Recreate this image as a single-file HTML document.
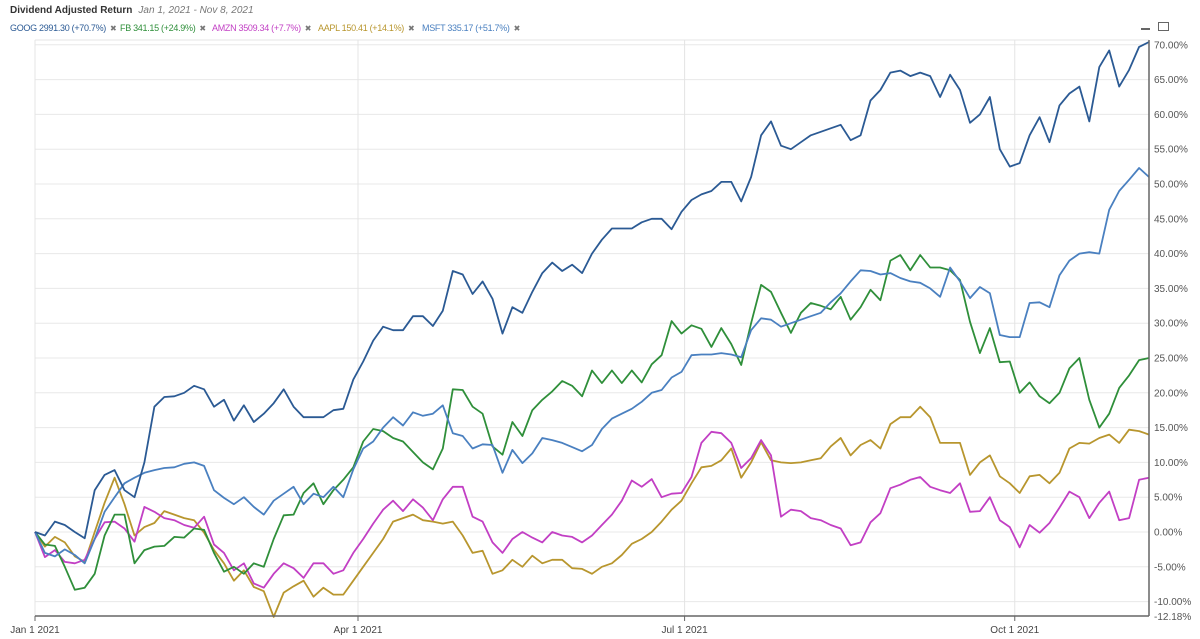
<!DOCTYPE html>
<html><head><meta charset="utf-8"><style>
html,body{margin:0;padding:0;background:#fff;}
body{width:1200px;height:639px;overflow:hidden;font-family:"Liberation Sans",sans-serif;position:relative;}
.hdr{position:absolute;left:10px;top:5px;font-size:10px;}
.hdr b{color:#333;}
.hdr i{color:#777;margin-left:6px;}
.leg{position:absolute;top:23px;font-size:9px;letter-spacing:-0.3px;white-space:nowrap;}
.leg span.x{color:#777;margin-left:4px;font-size:8px;}
</style></head><body>
<div class="hdr"><b>Dividend Adjusted Return</b><i>Jan 1, 2021 - Nov 8, 2021</i></div>
<div class="leg" style="left:10px;color:#2b5a94">GOOG 2991.30 (+70.7%)<span class="x">✖</span></div>
<div class="leg" style="left:120px;color:#2f8f3a">FB 341.15 (+24.9%)<span class="x">✖</span></div>
<div class="leg" style="left:212px;color:#c23fc4">AMZN 3509.34 (+7.7%)<span class="x">✖</span></div>
<div class="leg" style="left:318px;color:#b8962e">AAPL 150.41 (+14.1%)<span class="x">✖</span></div>
<div class="leg" style="left:422px;color:#4a80c0">MSFT 335.17 (+51.7%)<span class="x">✖</span></div>
<svg id="chart" width="1200" height="639" style="position:absolute;left:0;top:0"></svg>
<script>
const yTicks=[70,65,60,55,50,45,40,35,30,25,20,15,10,5,0,-5,-10];
const xTickLabels=["Jan 1 2021","Apr 1 2021","Jul 1 2021","Oct 1 2021"];
const xTickDays=[0,90,181,273];
const seriesNames=["AAPL","AMZN","FB","MSFT","GOOG"];
const seriesColors=["#b8962e","#c23fc4","#2f8f3a","#4a80c0","#2b5a94"];
const GOOG=[0,-0.5,1.5,1,0,-0.9,6,8.2,8.9,6,
5,10,18,19.4,19.5,20,21,20.5,18,19,
16,18.2,15.8,17,18.5,20.5,18,16.5,16.5,16.5,
17.5,17.7,21.9,24.5,27.5,29.5,29,29,31,31,
29.6,31.8,37.5,37,34.2,36,33.5,28.5,32.3,31.5,
34.5,37.2,38.7,37.5,38.4,37.2,40,42,43.6,43.6,
43.6,44.5,45,45,43.5,46,47.7,48.5,49,50.3,
50.3,47.5,51,57,59,55.5,55,56,57,57.5,
58,58.5,56.3,57,62,63.5,66,66.3,65.5,66,
65.5,62.5,65.7,63.5,58.8,60,62.5,55,52.5,53,
57,59.6,56,61.3,63,64,59,66.8,69.2,64,
66.4,69.7,70.4];
const MSFT=[0,-3,-3.5,-2.5,-3.3,-4.5,-1,2.9,5,7,
7.8,8.5,8.9,9.2,9.3,9.8,10,9.5,6,4.9,
4,5,3.6,2.5,4.5,5.5,6.5,4,5.5,5,
6.5,5,9,12,13,15,16.5,15.3,17.2,16.7,
17,18.2,14.2,13.8,12,12.6,12.5,8.5,11.8,9.9,
11.3,13.5,13.2,12.8,12.2,11.6,12.5,14.8,16.3,17,
17.7,18.7,20,20.4,22.2,23,25.4,25.5,25.5,25.7,
25.5,25.1,29,30.7,30.5,29.5,30,30.5,31,31.5,
33,34.3,36,37.6,37.5,37,37.2,36.5,36,35.8,
35,33.8,38,36,33.6,35.2,34.3,28.3,28,28,
32.9,33,32.3,36.9,39,40,40.2,40,46.3,49,
50.6,52.3,51];
const FB=[0,-1.8,-2,-5,-8.3,-8,-6,-0.5,2.5,2.5,
-4.5,-2.6,-2.1,-2,-0.7,-0.8,0.5,0.3,-3,-5.7,
-5,-6,-4.5,-5,-1,2.4,2.5,5.6,7,4,
6,7.5,9.3,13,14.8,14.5,13.5,13,11.5,10,
9,12,20.5,20.4,18,17,12.3,11.1,15.8,13.8,
17.5,19,20.2,21.7,21,19.5,23.2,21.4,23.2,21.4,
23.2,21.5,24.1,25.4,30.3,28.5,29.7,29.2,26.6,29.3,
27,24,30,35.5,34.5,31.5,28.6,31.5,32.9,32.5,
32,33.8,30.5,32.3,34.8,33.3,39,39.8,37.6,39.8,
38,38,37.6,36.2,30.2,25.7,29.3,24.4,24.5,20,
21.5,19.5,18.5,20,23.5,25,19,15,17,20.7,
22.5,24.7,25];
const AMZN=[0,-3.6,-2.6,-4.3,-4.5,-4,-1,1.4,1.5,0.5,
-1.4,3.6,2.9,2,1.7,1,0.6,2.2,-1.8,-3,
-5.5,-4.5,-7.4,-8,-6,-4.5,-5.2,-6.6,-4.5,-4.5,
-6,-5.5,-3,-1,1.2,3.2,4.5,3,4.7,3.5,
1.7,4.7,6.5,6.5,2.2,1.5,-1.5,-3,-1,0,
-0.8,-1.5,0,-0.5,-0.7,-1.5,-0.5,1,2.5,4.5,
7.4,6.5,7.6,5,5.5,5.6,7.9,12.8,14.4,14.2,
12.8,9.2,10.6,13.2,11,2.2,3.2,3,2,1.7,
1,0.5,-1.9,-1.5,1.4,2.7,6.3,6.8,7.5,7.9,
6.5,6,5.6,7,2.9,3,5,1.7,0.7,-2.2,
1,-0.1,1.3,3.5,5.8,5,2,4.2,5.8,1.7,
2,7.5,7.8];
const AAPL=[0,-2.1,-0.7,-1.5,-3.5,-4.3,0,4.2,7.8,4,
-0.5,0.7,1.3,3,2.5,2,1.7,-0.1,-2.6,-4.5,
-7,-5.5,-7.9,-8.5,-12.2,-8.7,-7.8,-7,-9.3,-8,
-9,-9,-7,-5,-3,-1,1.5,2,2.5,1.7,
1.5,1.2,1.5,-0.5,-3,-2.7,-6,-5.5,-4,-5,
-3.4,-4.5,-4,-4,-5.2,-5.3,-6,-5,-4.5,-3.3,
-1.7,-1,0,1.5,3.2,4.5,7,9.3,9.5,10.3,
12,7.8,10,12.9,10.3,10,9.9,10,10.3,10.6,
12.3,13.5,11,12.5,13.2,12,15.5,16.5,16.5,18,
16.5,12.8,12.8,12.8,8.2,10,11,8,7,5.6,
8,8.2,7,8.5,12,12.8,12.7,13.5,14,12.8,
14.7,14.5,14];
const seriesValues=[AAPL,AMZN,FB,MSFT,GOOG];

const L=35,R=1149,Y0=532,PX=6.96,BOT=616;
const ns="http://www.w3.org/2000/svg";
const svg=document.getElementById('chart');
function yS(v){return Y0-v*PX;}
function xIdx(i,n){return L+i*(R-L)/(n-1);}
function xDay(d){return L+d*(323/90);}
function mk(t,a){const e=document.createElementNS(ns,t);for(const k in a)e.setAttribute(k,a[k]);svg.appendChild(e);return e;}

yTicks.forEach(v=>{
  const g=mk('line',{x1:L,x2:R,y1:yS(v),y2:yS(v),stroke:'#e8e8e8','stroke-width':1});
  
  
  const t=mk('text',{x:R+5,y:yS(v)+3.5,'font-size':10,fill:'#555','font-family':'Liberation Sans, sans-serif'});
  t.textContent=v.toFixed(2)+'%';
  
  
});
const tb=mk('text',{x:R+5,y:BOT+4,'font-size':10,fill:'#555','font-family':'Liberation Sans, sans-serif'});
tb.textContent='-12.18%';



xTickDays.forEach((d,i)=>{
  const x=xDay(d);
  const g=mk('line',{x1:x,x2:x,y1:40,y2:BOT,stroke:'#e4e4e4','stroke-width':1});
  
  
  const tk=mk('line',{x1:x,x2:x,y1:BOT,y2:BOT+5,stroke:'#666','stroke-width':1});
  
  
  const t=mk('text',{x:x,y:BOT+17,'font-size':10,fill:'#444','text-anchor':'middle','font-family':'Liberation Sans, sans-serif'});
  t.textContent=xTickLabels[i];
  
  
});
const plotTop=mk('line',{x1:L,x2:R,y1:40,y2:40,stroke:'#e4e4e4','stroke-width':1});



seriesValues.forEach((vals,s)=>{
  const pts=vals.map((v,i)=>xIdx(i,vals.length).toFixed(1)+','+yS(v).toFixed(1)).join(' ');
  const p=mk('polyline',{points:pts,fill:'none',stroke:seriesColors[s],'stroke-width':1.8,'stroke-linejoin':'round'});
  
  
});

const ax=mk('line',{x1:L,x2:R,y1:BOT,y2:BOT,stroke:'#666','stroke-width':1.5});


const ay=mk('line',{x1:R,x2:R,y1:40,y2:BOT,stroke:'#666','stroke-width':1.5});


const mn=mk('rect',{x:1141,y:28,width:9,height:2,fill:'#666'});


const mx=mk('rect',{x:1158.5,y:22.5,width:10,height:8,fill:'none',stroke:'#666','stroke-width':1});


</script>
</body></html>
